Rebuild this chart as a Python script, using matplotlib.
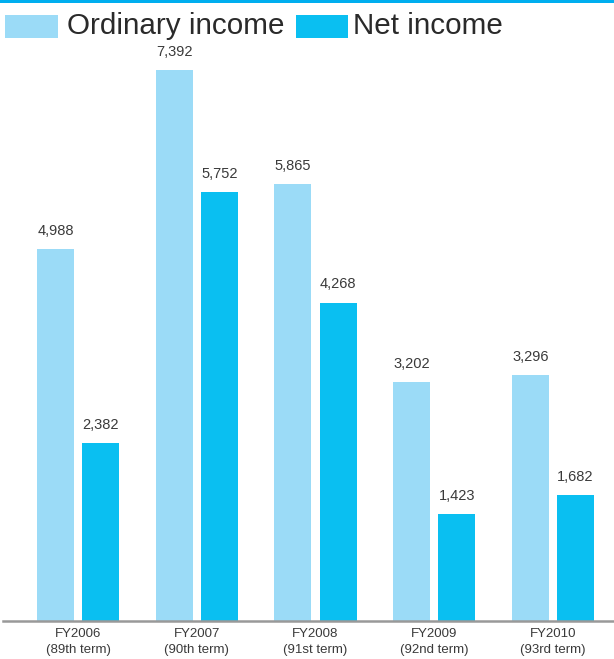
import matplotlib
matplotlib.use("Agg")
import matplotlib.pyplot as plt
from matplotlib.patches import Rectangle
import numpy as np

# ============================================================
# DATA (millions of yen)
# ============================================================

years = ["FY2006", "FY2007", "FY2008", "FY2009", "FY2010"]
terms = ["(89th term)", "(90th term)", "(91st term)", "(92nd term)", "(93rd term)"]
ordinary_income = [4988, 7392, 5865, 3202, 3296]
net_income = [2382, 5752, 4268, 1423, 1682]

# ============================================================
# STYLE
# ============================================================

LIGHT_BLUE = "#9BDBF7"
DARK_BLUE = "#0ABFF1"
TOP_RULE = "#00AEEF"
TEXT_COLOR = "#3a3a3a"
FONT = ["Liberation Sans", "DejaVu Sans"]

W, H = 614, 659
DPI = 100

plt.rcParams["font.family"] = FONT

fig = plt.figure(figsize=(W / DPI, H / DPI), dpi=DPI)
fig.patch.set_facecolor("white")

ax = fig.add_axes([3 / W, 38.5 / H, 1 - 3 / W, (621 - 40) / H])

x = np.arange(len(years))
bar_w = 0.312
offset = 0.19

bars_ord = ax.bar(x - offset, ordinary_income, width=bar_w, color=LIGHT_BLUE, zorder=2)
bars_net = ax.bar(x + offset, net_income, width=bar_w, color=DARK_BLUE, zorder=2)

for bars, vals in [(bars_ord, ordinary_income), (bars_net, net_income)]:
    for b, v in zip(bars, vals):
        ax.annotate(
            f"{v:,}",
            (b.get_x() + b.get_width() / 2, v),
            xytext=(0, 13),
            textcoords="offset points",
            ha="center",
            va="center",
            fontsize=10.5,
            color=TEXT_COLOR,
        )

ax.set_xlim(-0.6316, 4.5137)
ax.set_ylim(0, 581 / 0.0745)

ax.set_xticks(x)
ax.set_xticklabels(
    [f"{y}\n{t}" for y, t in zip(years, terms)],
    fontsize=9.5,
    color=TEXT_COLOR,
    linespacing=1.4,
)
ax.tick_params(axis="x", length=0, pad=5.5)
ax.set_yticks([])

for side in ["top", "left", "right"]:
    ax.spines[side].set_visible(False)
ax.spines["bottom"].set_color("#999999")
ax.spines["bottom"].set_linewidth(1.8)
ax.spines["bottom"].set_zorder(3)


# ============================================================
# HEADER RULE AND LEGEND
# ============================================================


def px_rect(x0, y0, w, h, color):
    # rectangle in pixel coordinates measured from top-left
    fig.add_artist(Rectangle(
        (x0 / W, 1 - (y0 + h) / H), w / W, h / H,
        transform=fig.transFigure, color=color, lw=0,
    ))


px_rect(0, 0, W, 2.8, TOP_RULE)

px_rect(5, 15, 53, 23, LIGHT_BLUE)
fig.text(67 / W, 1 - 26.5 / H, "Ordinary income", fontsize=21.3,
         color="#2a2a2a", va="center", ha="left")

px_rect(296, 15, 52, 23, DARK_BLUE)
fig.text(353 / W, 1 - 26.5 / H, "Net income", fontsize=21.3,
         color="#2a2a2a", va="center", ha="left")

fig.savefig("out.png", dpi=DPI)
